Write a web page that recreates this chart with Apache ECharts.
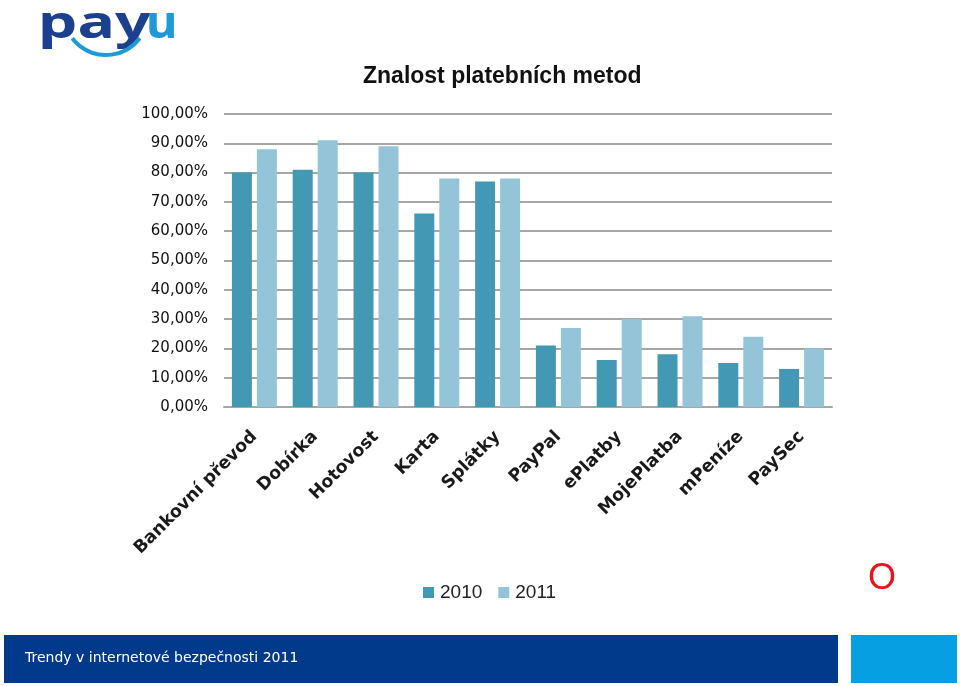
<!DOCTYPE html>
<html>
<head>
<meta charset="utf-8">
<script src="https://cdn.jsdelivr.net/npm/echarts@6/dist/echarts.min.js"></script>
<style>html,body{margin:0;padding:0;background:#fff}#c{width:960px;height:686px}</style>
</head>
<body>
<div id="c"></div>
<script>
const categories = ['Bankovní převod','Dobírka','Hotovost','Karta','Splátky','PayPal','ePlatby','MojePlatba','mPeníze','PaySec'];
const values2010 = [80, 81, 80, 66, 77, 21, 16, 18, 15, 13];
const values2011 = [88, 91, 89, 78, 78, 27, 30, 31, 24, 20];
const seriesNames = ['2010', '2011'];
const yTicks = { min: 0, max: 100, interval: 10 };
const titleText = 'Znalost platebních metod';
const footerText = 'Trendy v internetové bezpečnosti 2011';

const chart = echarts.init(document.getElementById('c'));
chart.setOption({
  animation: false,
  backgroundColor: '#ffffff',
  title: {
    text: titleText,
    left: 358, top: 60,
    textStyle: { fontFamily: 'Liberation Sans', fontSize: 23, fontWeight: 'bold', color: '#111' }
  },
  grid: { left: 224, right: 128, top: 114, bottom: 279, containLabel: false },
  legend: {
    data: seriesNames,
    left: 418, top: 578,
    icon: 'rect', itemWidth: 11, itemHeight: 11, itemGap: 16,
    textStyle: { fontFamily: 'Liberation Sans', fontSize: 19, color: '#222', padding: [0,0,0,1] }
  },
  xAxis: {
    type: 'category',
    data: categories,
    axisTick: { show: false },
    axisLine: { lineStyle: { color: '#a6a6a6', width: 2 } },
    axisLabel: {
      interval: 0, rotate: 45, margin: 27,
      fontFamily: 'DejaVu Sans', fontWeight: 'bold', fontSize: 17.5, color: '#1a1a1a'
    }
  },
  yAxis: {
    type: 'value',
    min: yTicks.min, max: yTicks.max, interval: yTicks.interval,
    axisLine: { show: false }, axisTick: { show: false },
    splitLine: { lineStyle: { color: '#a6a6a6', width: 2 } },
    axisLabel: {
      margin: 16,
      fontFamily: 'DejaVu Sans', fontSize: 15, color: '#111',
      formatter: v => v.toFixed(2).replace('.', ',') + '%'
    }
  },
  series: [
    { name: seriesNames[0], type: 'bar', data: values2010, barGap: '25%', barCategoryGap: '26%',
      itemStyle: { color: '#4398b4' } },
    { name: seriesNames[1], type: 'bar', data: values2011, barGap: '25%', barCategoryGap: '26%',
      itemStyle: { color: '#93c4d7' } }
  ],
  graphic: [
    { type: 'text', left: 38, top: 3, style: { text: 'pay', fontFamily: 'Noto Sans', fontWeight: 'bold', fontSize: 44, fill: '#1c3f8e' }, scaleX: 1.42 },
    { type: 'text', left: 146, top: 3, style: { text: 'u', fontFamily: 'Noto Sans', fontWeight: 'bold', fontSize: 44, fill: '#1e9ad8' }, scaleX: 1.1 },
    { type: 'arc', shape: { cx: 106, cy: 12.5, r: 42.5, startAngle: 0.65, endAngle: 2.49 }, style: { stroke: '#1e9ad8', lineWidth: 4, fill: null } },
    { type: 'text', left: 868, top: 561, style: { text: 'O', fontFamily: 'Liberation Sans', fontSize: 36, fill: '#e8141c' } },
    { type: 'rect', shape: { x: 4, y: 635, width: 834, height: 48 }, style: { fill: '#013a8b' } },
    { type: 'rect', shape: { x: 851, y: 635, width: 106, height: 48 }, style: { fill: '#06a0e2' } },
    { type: 'text', left: 25, top: 651, style: { text: footerText, fontFamily: 'DejaVu Sans', fontSize: 14, fill: '#ffffff' } }
  ]
});
</script>
</body>
</html>
